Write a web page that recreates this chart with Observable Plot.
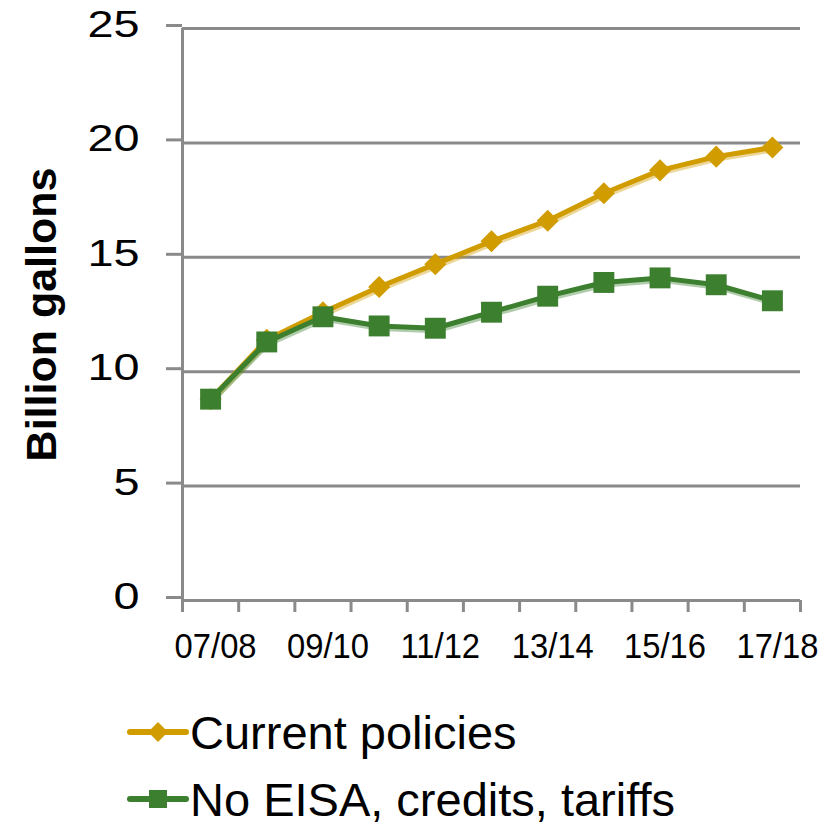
<!DOCTYPE html>
<html>
<head>
<meta charset="utf-8">
<script src="https://cdn.jsdelivr.net/npm/d3@7"></script>
<script src="https://cdn.jsdelivr.net/npm/@observablehq/plot@0.6"></script>
<style>
  body { margin: 0; background: #fff; font-family: "Liberation Sans", Arial, sans-serif; }
  #chart svg { display: block; }
  #legend { display: block; }
</style>
</head>
<body>
<div id="chart"></div>
<script>
// Marketing years and ethanol use (billion gallons) under two policy scenarios
const years = ["07/08", "08/09", "09/10", "10/11", "11/12", "12/13", "13/14", "14/15", "15/16", "16/17", "17/18"];
const currentPolicies = [8.8, 11.4, 12.6, 13.7, 14.7, 15.7, 16.6, 17.8, 18.8, 19.4, 19.8];
const noEisa = [8.8, 11.3, 12.4, 12.0, 11.9, 12.6, 13.3, 13.9, 14.1, 13.8, 13.1];
const seriesNames = ["Current policies", "No EISA, credits, tariffs"];
const yTicks = [0, 5, 10, 15, 20, 25];
const labelYears = ["07/08", "09/10", "11/12", "13/14", "15/16", "17/18"];
const yLabel = "Billion gallons";

const gold = "#D09C00";
const green = "#3B7F2F";
const gray = "#8A8A8A";
const font = "'Liberation Sans', Arial, sans-serif";

const rowsCurrent = years.map((year, i) => ({i, year, value: currentPolicies[i]}));
const rowsNoEisa = years.map((year, i) => ({i, year, value: noEisa[i]}));
// category boundaries for the tick marks between years
const boundaries = d3.range(years.length + 1).map(k => k - 0.5);
const labelIdx = labelYears.map(y => years.indexOf(y));

const chart = Plot.plot({
  width: 835,
  height: 680,
  marginTop: 28,
  marginBottom: 80,
  marginLeft: 182,
  marginRight: 35,
  style: {fontFamily: font, color: "#000", background: "#fff"},
  x: {type: "linear", domain: [-0.5, years.length - 0.5], axis: null},
  y: {domain: [0, 25], axis: null},
  marks: [
    Plot.gridY({ticks: yTicks, stroke: gray, strokeOpacity: 1, strokeWidth: 3}),
    Plot.axisY({ticks: yTicks, tickSize: 16, tickPadding: 27, stroke: gray, strokeWidth: 3,
      fontSize: 36, dy: -3, label: null}),
    Plot.axisX({ticks: boundaries, tickSize: 12, tickFormat: () => "", stroke: gray, strokeWidth: 3, label: null}),
    Plot.axisX({ticks: labelIdx, tickSize: 0, tickPadding: 32, tickFormat: i => years[i],
      fontSize: 36, dx: 5, label: null}),
    Plot.ruleX([-0.5], {stroke: gray, strokeWidth: 3}),
    Plot.text([yLabel], {frameAnchor: "left", text: d => d, rotate: -90, dx: -140,
      textAnchor: "middle", lineAnchor: "middle",
      fontSize: 43, fontWeight: "bold", fill: "#000"}),
    // Current policies
    Plot.line(rowsCurrent, {x: "i", y: "value", stroke: gold, strokeOpacity: 0.4, strokeWidth: 5, dy: 2.5, dx: 1}),
    Plot.line(rowsCurrent, {x: "i", y: "value", stroke: gold, strokeWidth: 5}),
    Plot.dot(rowsCurrent, {x: "i", y: "value", symbol: "square", r: 8.8, rotate: 45, fill: gold}),
    // No EISA, credits, tariffs
    Plot.line(rowsNoEisa, {x: "i", y: "value", stroke: green, strokeOpacity: 0.4, strokeWidth: 5, dy: 2.5, dx: 1}),
    Plot.line(rowsNoEisa, {x: "i", y: "value", stroke: green, strokeWidth: 5}),
    Plot.dot(rowsNoEisa, {x: "i", y: "value", symbol: "square", r: 11.8, fill: green})
  ]
});

// Widen or narrow tick labels around their own anchor point
function stretchText(selector, sx) {
  d3.select(chart).selectAll(selector).each(function () {
    const t = d3.select(this);
    const x = +t.attr("x") || 0, y = +t.attr("y") || 0;
    const prev = t.attr("transform") || "";
    t.attr("transform", `${prev} translate(${x},${y}) scale(${sx},1) translate(${-x},${-y})`);
  });
}
stretchText('g[aria-label="y-axis tick label"] text', 1.3);
stretchText('g[aria-label="x-axis tick label"] text', 0.91);

document.getElementById("chart").appendChild(chart);

// Legend below the plot
const legend = d3.select("#chart").append("svg")
  .attr("id", "legend")
  .attr("width", 835)
  .attr("height", 147)
  .style("font-family", font);

const entries = [
  {name: seriesNames[0], color: gold, symbol: "diamond"},
  {name: seriesNames[1], color: green, symbol: "square"}
];
entries.forEach((e, k) => {
  const cy = 52 + k * 67;
  const g = legend.append("g");
  g.append("line").attr("x1", 130).attr("x2", 186).attr("y1", cy).attr("y2", cy)
    .attr("stroke", e.color).attr("stroke-width", 6).attr("stroke-linecap", "round");
  if (e.symbol === "diamond") {
    g.append("rect").attr("x", -7).attr("y", -7).attr("width", 14).attr("height", 14)
      .attr("fill", e.color).attr("transform", `translate(158,${cy}) rotate(45)`);
  } else {
    g.append("rect").attr("x", 158 - 9).attr("y", cy - 9).attr("width", 18).attr("height", 18)
      .attr("fill", e.color);
  }
  g.append("text").attr("x", 190).attr("y", cy + 17)
    .attr("font-size", 47).attr("fill", "#000").text(e.name);
});
</script>
</body>
</html>
